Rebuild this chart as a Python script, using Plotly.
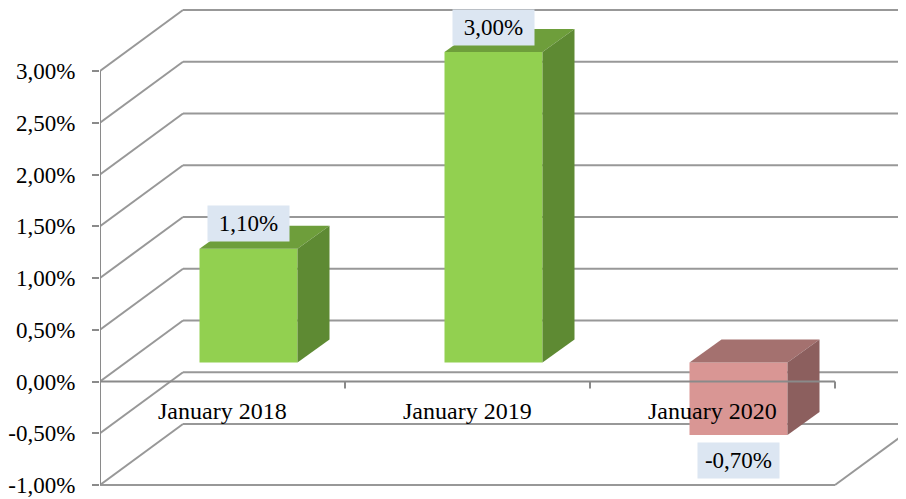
import plotly.graph_objects as go

# ---- data ----
categories = ["January 2018", "January 2019", "January 2020"]
values = [1.10, 3.00, -0.70]
value_labels = ["1,10%", "3,00%", "-0,70%"]
y_ticks = [-1.0, -0.5, 0.0, 0.5, 1.0, 1.5, 2.0, 2.5, 3.0]
y_tick_labels = ["-1,00%", "-0,50%", "0,00%", "0,50%", "1,00%", "1,50%", "2,00%", "2,50%", "3,00%"]

# ---- geometry (pixel calibration of the pseudo-3D view) ----
PAGE_OFF = 8                 # default page body margin
W, H = 906 - PAGE_OFF, 499 - PAGE_OFF
ML = 100 - PAGE_OFF          # left margin (front y axis position)
CAT_PX = 245                 # pixels per category on the front plane
UNIT_PX = 103.5              # pixels per 1 % on the front plane
ZERO_PX = 381.5 - PAGE_OFF   # pixel row of 0 % on the front plane

x_max = (W - ML) / CAT_PX
y_min = -(H - ZERO_PX) / UNIT_PX
y_max = ZERO_PX / UNIT_PX

DX, DY = 83 / CAT_PX, 61 / UNIT_PX   # full depth offset (back wall)
SX, SY = 26 / CAT_PX, 19 / UNIT_PX   # offset to bar front face
BX, BY = 32 / CAT_PX, 23 / UNIT_PX   # bar depth
BW = 98 / CAT_PX                     # bar width
n = len(categories)

GRID = "#989898"
AXIS = "#8a8a8a"
pos_cols = ("#92D050", "#6E9E3B", "#5E8A33")
neg_cols = ("#D99694", "#A4716F", "#8C5F5E")

fig = go.Figure()
shapes = []

def line(x0, y0, x1, y1, color=GRID, layer="below", w=2):
    shapes.append(dict(type="line", xref="x", yref="y", x0=x0, y0=y0, x1=x1, y1=y1,
                       line=dict(color=color, width=w), layer=layer))

# back wall gridlines + diagonals
for v in y_ticks:
    line(0, v, DX, v + DY)
    line(DX, v + DY, x_max, v + DY)
# floor front edge and right diagonal
ymin_t = min(y_ticks)
line(0, ymin_t, n, ymin_t)
line(n, ymin_t, n + DX, ymin_t + DY)

# bars (front faces)
for i, v in enumerate(values):
    front, top_c, side_c = pos_cols if v >= 0 else neg_cols
    fig.add_trace(go.Bar(x=[i + 0.5 + SX], y=[v], base=[SY], width=[BW],
                         marker=dict(color=front, line=dict(width=0)),
                         hoverinfo="skip", showlegend=False))
# bars (top and side faces)
for i, v in enumerate(values):
    front, top_c, side_c = pos_cols if v >= 0 else neg_cols
    xl = i + 0.5 + SX - BW / 2
    xr = xl + BW
    hi = max(v, 0) + SY
    lo = min(v, 0) + SY
    fig.add_trace(go.Scatter(x=[xl, xr, xr + BX, xl + BX, xl], y=[hi, hi, hi + BY, hi + BY, hi],
                             fill="toself", fillcolor=top_c, mode="lines", line=dict(width=0, color=top_c),
                             hoverinfo="skip", showlegend=False))
    fig.add_trace(go.Scatter(x=[xr, xr, xr + BX, xr + BX, xr], y=[lo, hi, hi + BY, lo + BY, lo],
                             fill="toself", fillcolor=side_c, mode="lines", line=dict(width=0, color=side_c),
                             hoverinfo="skip", showlegend=False))

# front axes (above bars)
line(0, min(y_ticks), 0, max(y_ticks), color=AXIS, layer="above")
line(0, 0, n, 0, color=AXIS, layer="above")
for k in range(n + 1):
    line(k, 0, k, -7 / UNIT_PX, color=AXIS, layer="above")

annotations = []
for i, c in enumerate(categories):
    annotations.append(dict(x=i + 0.5, y=0, xref="x", yref="y", text=c, showarrow=False,
                            yshift=-29, font=dict(family="Liberation Serif", size=24, color="#000")))
for i, (v, t) in enumerate(zip(values, value_labels)):
    yv = (v + SY)
    annotations.append(dict(x=i + 0.5 + SX, y=yv, xref="x", yref="y", text=t, showarrow=False,
                            yshift=25 if v >= 0 else -26, width=79, height=33, borderpad=1,
                            bgcolor="#DCE6F2",
                            font=dict(family="Liberation Serif", size=23, color="#000")))

fig.update_layout(
    width=W, height=H,
    margin=dict(l=ML, r=0, t=0, b=0, autoexpand=False),
    paper_bgcolor="white", plot_bgcolor="white",
    barmode="overlay",
    shapes=shapes, annotations=annotations,
    xaxis=dict(range=[0, x_max], visible=False, fixedrange=True, automargin=False),
    yaxis=dict(range=[y_min, y_max], tickvals=y_ticks, ticktext=y_tick_labels,
               showgrid=False, zeroline=False, showline=False, automargin=False,
               ticks="outside", ticklen=7, tickwidth=2, tickcolor=AXIS,
               ticklabelstandoff=12,
               tickfont=dict(family="Liberation Serif", size=23, color="#000"),
               fixedrange=True),
    showlegend=False,
)

fig.write_html("out.html")
